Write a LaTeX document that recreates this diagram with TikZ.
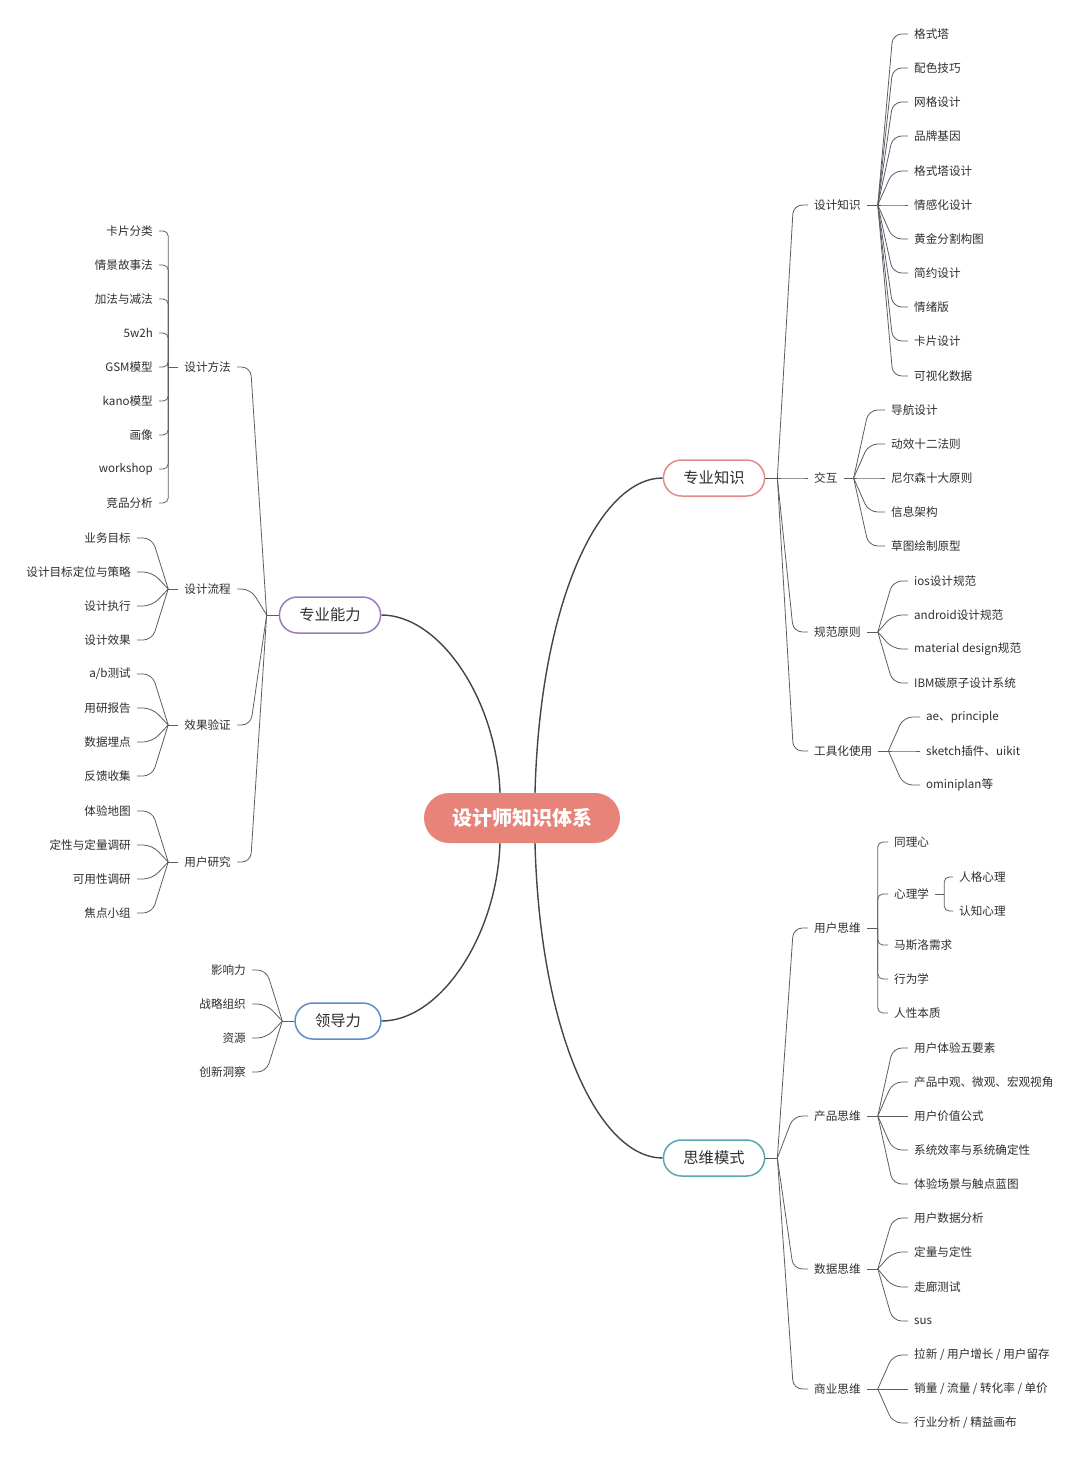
\documentclass[tikz,border=0pt]{standalone}
\usepackage{fontspec}
\setmainfont{Noto Sans CJK SC}

\definecolor{rootred}{HTML}{E8837A}
\definecolor{knowred}{HTML}{E38B86}
\definecolor{abilpurple}{HTML}{9A7BBF}
\definecolor{leadblue}{HTML}{5C8FC8}
\definecolor{mindteal}{HTML}{5AA7AF}
\definecolor{trunk}{HTML}{3E4650}
\definecolor{twig}{HTML}{5A5F66}
\definecolor{ink}{HTML}{2E2E2E}

\begin{document}
\begin{tikzpicture}[x=1pt, y=-1pt,
    root/.style={fill=rootred, text=white, font=\fontsize{20}{24}\selectfont\bfseries,
                 rounded corners=25pt, minimum height=50pt, inner xsep=28pt},
    topic/.style={draw=#1, line width=1.5pt, fill=white, text=ink,
                  font=\fontsize{15.3}{18}\selectfont, rounded corners=18pt,
                  minimum height=36pt, inner xsep=20pt},
    leaf/.style={text=ink, font=\fontsize{11.6}{14}\selectfont, inner xsep=6pt, inner ysep=2pt},
    lf/.style={leaf, anchor=west},
    rt/.style={leaf, anchor=east},
    bigline/.style={draw=trunk, line width=1.4pt},
    link/.style={draw=twig, line width=0.8pt, rounded corners=9pt},
    bracket/.style={draw=twig, line width=0.8pt, rounded corners=5pt}]
    \fill[white] (0,0) rectangle (1080,1458);
    \useasboundingbox (0,0) rectangle (1080,1458);

    % centre and main topics
    \node[root] (root) at (522,818) {设计师知识体系};
    \node[topic=knowred]    (know) at (714,478)  {专业知识};
    \node[topic=abilpurple] (abil) at (330,615)  {专业能力};
    \node[topic=leadblue]   (lead) at (338,1021) {领导力};
    \node[topic=mindteal]   (mind) at (714,1158) {思维模式};

    \draw[bigline] ([xshift=-22pt]root.north) .. controls (497,700) and (440,615) .. (abil.east);
    \draw[bigline] ([xshift=13pt]root.north) .. controls (540,600) and (600,478) .. (know.west);
    \draw[bigline] ([xshift=-22pt]root.south) .. controls (497,936) and (440,1021) .. (lead.east);
    \draw[bigline] ([xshift=13pt]root.south) .. controls (540,1036) and (600,1158) .. (mind.west);

    % 专业知识
    \node[lf] (design) at (808,205) {设计知识};
    \node[lf] (inter)  at (808,478) {交互};
    \node[lf] (norm)   at (808,632) {规范原则};
    \node[lf] (tool)   at (808,751) {工具化使用};
    \coordinate (Jknow) at ([xshift=12pt]know.east);
    \draw[link] (know.east) -- (Jknow);
    \foreach \c in {design,inter,norm,tool}
        \draw[link] (Jknow) -- ([xshift=16pt]Jknow |- \c.west) -- (\c.west);

    \foreach \i/\y/\t in {1/34/格式塔, 2/68/配色技巧, 3/102/网格设计, 4/136/品牌基因,
                          5/171/格式塔设计, 6/205/情感化设计, 7/239/黄金分割构图, 8/273/简约设计,
                          9/307/情绪版, 10/341/卡片设计, 11/376/可视化数据}
        \node[lf] (design\i) at (908,\y) {\t};
    \foreach \i/\y/\t in {1/410/导航设计, 2/444/动效十二法则, 3/478/尼尔森十大原则,
                          4/512/信息架构, 5/546/草图绘制原型}
        \node[lf] (inter\i) at (885,\y) {\t};
    \foreach \i/\y/\t in {1/581/ios设计规范, 2/615/android设计规范,
                          3/649/material design规范, 4/683/IBM碳原子设计系统}
        \node[lf] (norm\i) at (908,\y) {\t};
    \foreach \i/\y/\t in {1/717/ae、principle, 2/751/sketch插件、uikit, 3/785/ominiplan等}
        \node[lf] (tool\i) at (920,\y) {\t};

    % 思维模式
    \node[lf] (user) at (808,928)  {用户思维};
    \node[lf] (prod) at (808,1116) {产品思维};
    \node[lf] (data) at (808,1269) {数据思维};
    \node[lf] (biz)  at (808,1389) {商业思维};
    \coordinate (Jmind) at ([xshift=12pt]mind.east);
    \draw[link] (mind.east) -- (Jmind);
    \foreach \c in {user,prod,data,biz}
        \draw[link] (Jmind) -- ([xshift=16pt]Jmind |- \c.west) -- (\c.west);

    \foreach \i/\y/\t in {1/842/同理心, 2/894/心理学, 3/945/马斯洛需求, 4/979/行为学, 5/1013/人性本质}
        \node[lf] (user\i) at (888,\y) {\t};
    \foreach \i/\y/\t in {1/877/人格心理, 2/911/认知心理}
        \node[lf] (psy\i) at (953,\y) {\t};
    \foreach \i/\y/\t in {1/1048/用户体验五要素, 2/1082/产品中观、微观、宏观视角, 3/1116/用户价值公式,
                          4/1150/系统效率与系统确定性, 5/1184/体验场景与触点蓝图}
        \node[lf] (prod\i) at (908,\y) {\t};
    \foreach \i/\y/\t in {1/1218/用户数据分析, 2/1252/定量与定性, 3/1287/走廊测试, 4/1321/sus}
        \node[lf] (data\i) at (908,\y) {\t};
    \node[lf] (biz1) at (908,1355) {拉新\ /\ 用户增长\ /\ 用户留存};
    \node[lf] (biz2) at (908,1389) {销量\ /\ 流量\ /\ 转化率\ /\ 单价};
    \node[lf] (biz3) at (908,1423) {行业分析\ /\ 精益画布};

    % 专业能力
    \node[rt] (method)   at (237,367) {设计方法};
    \node[rt] (flow)     at (237,589) {设计流程};
    \node[rt] (verify)   at (237,725) {效果验证};
    \node[rt] (research) at (237,862) {用户研究};
    \coordinate (Jabil) at ([xshift=-12pt]abil.west);
    \draw[link] (abil.west) -- (Jabil);
    \foreach \c in {method,flow,verify,research}
        \draw[link] (Jabil) -- ([xshift=-16pt]Jabil |- \c.east) -- (\c.east);

    \foreach \i/\y/\t in {1/231/卡片分类, 2/265/情景故事法, 3/299/加法与减法, 4/333/5w2h,
                          5/367/GSM模型, 6/401/kano模型, 7/435/画像, 8/469/workshop, 9/503/竞品分析}
        \node[rt] (method\i) at (159,\y) {\t};
    \foreach \i/\y/\t in {1/538/业务目标, 2/572/设计目标定位与策略, 3/606/设计执行, 4/640/设计效果}
        \node[rt] (flow\i) at (137,\y) {\t};
    \node[rt] (verify1) at (137,674) {a/b测试};
    \foreach \i/\y/\t in {2/708/用研报告, 3/742/数据埋点, 4/776/反馈收集}
        \node[rt] (verify\i) at (137,\y) {\t};
    \foreach \i/\y/\t in {1/811/体验地图, 2/845/定性与定量调研, 3/879/可用性调研, 4/913/焦点小组}
        \node[rt] (research\i) at (137,\y) {\t};

    % 领导力
    \foreach \i/\y/\t in {1/970/影响力, 2/1004/战略组织, 3/1038/资源, 4/1072/创新洞察}
        \node[rt] (lead\i) at (252,\y) {\t};
    \coordinate (Jlead) at ([xshift=-12pt]lead.west);
    \draw[link] (lead.west) -- (Jlead);

    % second level junctions
    \coordinate (Jdesign)   at ([xshift=11pt]design.east);
    \coordinate (Jinter)    at ([xshift=10pt]inter.east);
    \coordinate (Jnorm)     at ([xshift=11pt]norm.east);
    \coordinate (Jtool)     at ([xshift=10pt]tool.east);
    \coordinate (Juser)     at ([xshift=11pt]user.east);
    \coordinate (Jpsy)      at ([xshift=9pt]user2.east);
    \coordinate (Jprod)     at ([xshift=11pt]prod.east);
    \coordinate (Jdata)     at ([xshift=11pt]data.east);
    \coordinate (Jbiz)      at ([xshift=11pt]biz.east);
    \coordinate (Jmethod)   at ([xshift=-10pt]method.west);
    \coordinate (Jflow)     at ([xshift=-10pt]flow.west);
    \coordinate (Jverify)   at ([xshift=-10pt]verify.west);
    \coordinate (Jresearch) at ([xshift=-10pt]research.west);

    \foreach \p in {design,inter,norm,tool,user,prod,data,biz}
        \draw[link] (\p.east) -- (J\p);
    \draw[link] (user2.east) -- (Jpsy);
    \foreach \p in {method,flow,verify,research}
        \draw[link] (\p.west) -- (J\p);

    % fans to the right
    \foreach \p/\n in {design/11, inter/5, norm/4, tool/3, prod/5, data/4, biz/3}
        \foreach \i in {1,...,\n}
            \draw[link] (J\p) -- ([xshift=15pt]J\p |- \p\i.west) -- (\p\i.west);
    % fans to the left
    \foreach \p/\n in {flow/4, verify/4, research/4, lead/4}
        \foreach \i in {1,...,\n}
            \draw[link] (J\p) -- ([xshift=-16pt]J\p |- \p\i.east) -- (\p\i.east);
    % brackets
    \foreach \i in {1,...,5}
        \draw[bracket] (Juser) -- (Juser |- user\i.west) -- (user\i.west);
    \foreach \i in {1,2}
        \draw[bracket] (Jpsy) -- (Jpsy |- psy\i.west) -- (psy\i.west);
    \foreach \i in {1,...,9}
        \draw[bracket] (Jmethod) -- (Jmethod |- method\i.east) -- (method\i.east);
\end{tikzpicture}
\end{document}
